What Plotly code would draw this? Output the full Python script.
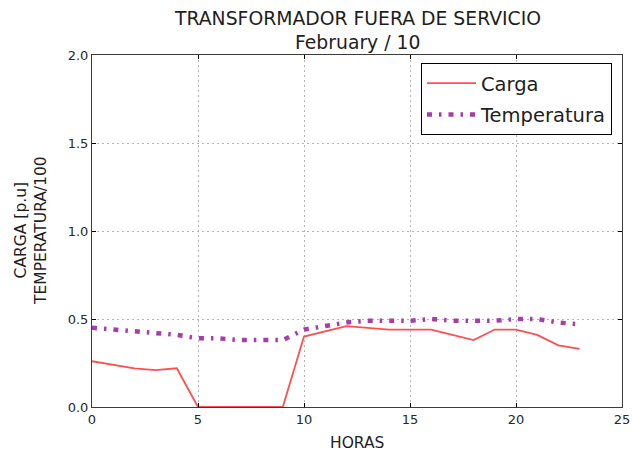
import plotly.graph_objects as go

horas = list(range(24))
carga = [0.26, 0.24, 0.22, 0.21, 0.22, 0.0, 0.0, 0.0, 0.0, 0.0,
         0.40, 0.43, 0.46, 0.45, 0.44, 0.44, 0.44, 0.41, 0.38, 0.44,
         0.44, 0.41, 0.35, 0.33]
temperatura = [0.45, 0.44, 0.43, 0.42, 0.41, 0.39, 0.39, 0.38, 0.38, 0.38,
               0.44, 0.46, 0.48, 0.49, 0.49, 0.49, 0.50, 0.49, 0.49, 0.49,
               0.50, 0.50, 0.48, 0.47]
x_ticks = [0, 5, 10, 15, 20, 25]
y_ticks = [0.0, 0.5, 1.0, 1.5, 2.0]

font_family = "DejaVu Sans"
W, H = 632, 457
L, R, T, B = 92, 10, 55, 50
PW, PH = W - L - R, H - T - B

fig = go.Figure()
fig.add_trace(go.Scatter(x=horas, y=carga, mode="lines", name="Carga",
                         legendgroup="a",
                         line=dict(color="rgb(255,80,80)", width=1.8)))
fig.add_trace(go.Scatter(x=horas, y=temperatura, mode="lines", name="Temperatura",
                         legendgroup="b",
                         line=dict(color="rgb(168,60,168)", width=4.5,
                                   dash="5px,7px,2.5px,7px")))

axis_common = dict(showline=True, linecolor="rgb(60,60,60)", linewidth=1, mirror="ticks",
                   ticks="inside", ticklen=4, tickcolor="black",
                   showgrid=True, gridcolor="rgb(180,180,180)", griddash="2px,3px",
                   gridwidth=1, zeroline=False, automargin=False,
                   tickfont=dict(family=font_family, size=13, color="rgb(40,40,40)"))

fig.update_layout(
    width=W, height=H,
    margin=dict(l=L, r=R, t=T, b=B),
    paper_bgcolor="white", plot_bgcolor="white",
    font=dict(family=font_family, color="rgb(30,30,30)"),
    xaxis=dict(range=[0, 25], tickvals=x_ticks, **axis_common),
    yaxis=dict(range=[0, 2], tickvals=y_ticks, tickformat=".1f", **axis_common),
    legend=dict(x=(612 - L) / PW, y=1 - (63 - T) / PH, xanchor="right", yanchor="top",
                bgcolor="white", bordercolor="black", borderwidth=1,
                traceorder="grouped", tracegroupgap=3,
                font=dict(family=font_family, size=19.5, color="rgb(30,30,30)"),
                itemwidth=49),
    showlegend=True,
    annotations=[
        dict(text="TRANSFORMADOR FUERA DE SERVICIO", xref="paper", yref="paper",
             x=0.5, y=1 + (T - 19) / PH, xanchor="center", yanchor="middle",
             showarrow=False, font=dict(size=18.8)),
        dict(text="February / 10", xref="paper", yref="paper",
             x=0.5, y=1 + (T - 43) / PH, xanchor="center", yanchor="middle",
             showarrow=False, font=dict(size=18.8)),
        dict(text="HORAS", xref="paper", yref="paper",
             x=0.5, y=-(443 - (H - B)) / PH, xanchor="center", yanchor="middle",
             showarrow=False, font=dict(size=15.5)),
        dict(text="CARGA [p.u]<br>TEMPERATURA/100", xref="paper", yref="paper",
             x=-(L - 31) / PW, y=0.5, xanchor="center", yanchor="middle",
             textangle=-90, showarrow=False, font=dict(size=15.5)),
    ],
)

fig.write_html("out.html", post_script="document.body.style.margin='0';",
               config={"displayModeBar": False})
